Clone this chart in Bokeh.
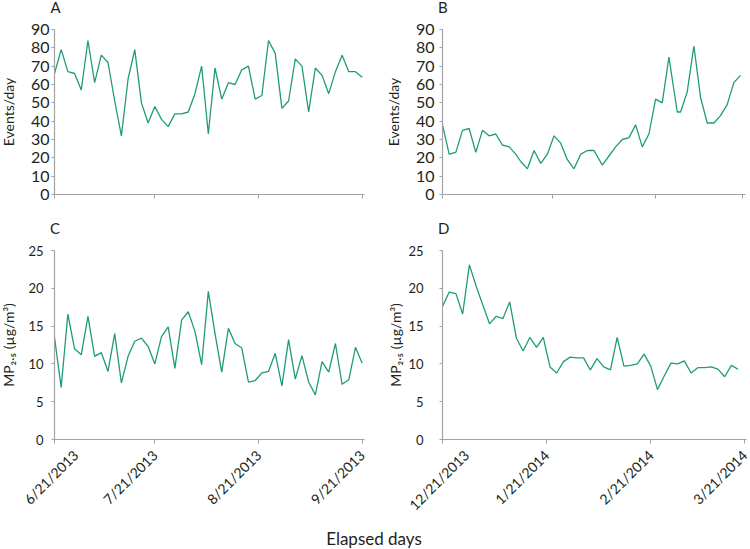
from math import pi
from bokeh.plotting import figure
from bokeh.models import Range1d, FixedTicker
from bokeh.layouts import column, row
from bokeh.embed import file_html
from bokeh.resources import INLINE
from bokeh.core.properties import value

FONT = "Lato"
LINE = "#1f9b7c"
AXIS = "#a3a3a3"
TEXT = "#231f20"

# ---- data ----
days_summer = [0, 2, 4, 6, 8, 10, 12, 14, 16, 18, 20, 22, 24, 26, 28, 30, 32, 34, 36, 38,
               40, 42, 44, 46, 48, 50, 52, 54, 56, 58, 60, 62, 64, 66, 68, 70, 72, 74, 76,
               78, 80, 82, 84, 86, 88, 90, 92]
events_summer = [66, 79, 67, 66, 57, 84, 61, 76, 72, 51, 32, 63, 79, 50, 39, 48, 41, 37, 44, 44,
                 45, 55, 70, 33, 69, 52, 61, 60, 68, 70, 52, 54, 84, 77, 47, 51, 74, 70, 45,
                 69, 65, 55, 67, 76, 67, 67, 64]
pm_summer = [13.5, 6.9, 16.6, 12.0, 11.2, 16.3, 11.0, 11.5, 9.0, 14.0, 7.5, 11.0, 13.0, 13.4,
             12.3, 10.0, 13.6, 14.9, 9.4, 15.8, 16.9, 14.3, 9.9, 19.6, 14.0, 8.9, 14.7, 12.7,
             12.1, 7.6, 7.8, 8.8, 9.0, 11.4, 7.1, 13.2, 8.0, 11.1, 7.6, 5.9, 10.3, 8.9, 12.7,
             7.3, 7.9, 12.2, 10.1]

days_winter_events = [0, 2, 4, 6, 8, 10, 12, 14, 16, 18, 20, 22, 23.5, 25.5, 27.5, 29.5, 31.5,
                      33.5, 35.5, 37.5, 39.5, 41.5, 43.5, 45.5, 48, 50, 52, 54, 56, 58, 60, 62,
                      64, 66, 68, 70.5, 71.5, 73.5, 75.5, 77.5, 79.5, 81.5, 83.5, 85.5, 87.5, 89.5]
events_winter = [38, 22, 23, 35, 36, 23, 35, 32, 33, 27, 26, 22, 18, 14, 24, 17, 22, 32, 28, 19,
                 14, 22, 24, 24, 16, 21, 26, 30, 31, 38, 26, 33, 52, 50, 75, 45, 45, 56, 81, 53,
                 39, 39, 43, 49, 61, 65]

days_winter_pm = [0, 2, 4, 6, 8, 10, 12, 14, 16, 18, 20, 22, 24, 26, 28, 30, 32, 34, 36, 38,
                  40, 42, 44, 46, 48, 50, 52, 54, 56, 58, 60, 62, 64, 66, 68, 70, 72, 74, 76,
                  78, 80, 82, 84, 86, 88]
pm_winter = [17.6, 19.5, 19.3, 16.6, 23.1, 20.3, 17.8, 15.3, 16.3, 16.0, 18.2, 13.4, 11.7, 13.5,
             12.2, 13.5, 9.6, 8.8, 10.3, 10.9, 10.8, 10.8, 9.2, 10.7, 9.6, 9.2, 13.5, 9.7, 9.8,
             10.0, 11.3, 9.7, 6.6, 8.4, 10.1, 10.0, 10.4, 8.8, 9.5, 9.5, 9.6, 9.3, 8.3, 9.8, 9.3]

ticks_summer = [0, 30, 61, 92]
labels_summer = ["6/21/2013", "7/21/2013", "8/21/2013", "9/21/2013"]
ticks_winter_events = [0, 33, 64, 90]
ticks_winter_pm = [0, 31, 62, 90]
labels_winter = ["12/21/2013", "1/21/2014", "2/21/2014", "3/21/2014"]

events_ticks = [0, 10, 20, 30, 40, 50, 60, 70, 80, 90]
pm_ticks = [0, 5, 10, 15, 20, 25]

EV_LABEL = "Events/day"
PM_LABEL = "MP\u2082.\u2085 (\u00b5g/m\u00b3)"
X_TITLE = "Elapsed days"
panel_letters_top = ["A", "B"]
panel_letters_bottom = ["C", "D"]


def blank(width, height, bt, bb, yr, xr):
    f = figure(width=width, height=height, output_backend="svg", toolbar_location=None,
               x_range=xr, y_range=yr, min_border_left=0, min_border_right=0,
               min_border_top=bt, min_border_bottom=bb, x_axis_type=None, y_axis_type=None,
               title=None)
    f.outline_line_color = None
    f.grid.visible = False
    return f


def ytitle(text, width, height, bt, bb, ymax, xpos):
    f = blank(width, height, bt, bb, Range1d(0, ymax), Range1d(0, width))
    f.text(x=[xpos], y=[ymax / 2], text=[text], angle=pi / 2, text_font=value(FONT),
           text_font_size="14px", text_color=TEXT, text_align="center",
           text_baseline="middle")
    return f


def letter_strip(letters, xpos, height, ymid):
    f = blank(750, height, 0, 0, Range1d(0, height), Range1d(0, 750))
    f.text(x=xpos, y=[ymid] * len(letters), text=letters, text_font=value(FONT),
           text_font_size="15px", text_color=TEXT, text_align="left",
           text_baseline="middle")
    return f


def panel(xs, ys, xmax, ymax, yticks, xticks, xlabels, show_xlabels,
          width, height, bl, br, bt, bb, ylab_size, ylab_standoff):
    p = figure(width=width, height=height, output_backend="svg", toolbar_location=None,
               x_range=Range1d(0, xmax), y_range=Range1d(0, ymax),
               min_border_left=bl, min_border_right=br, min_border_top=bt,
               min_border_bottom=bb)
    p.outline_line_color = None
    p.grid.visible = False
    p.background_fill_color = "white"
    p.border_fill_color = "white"
    p.line(xs, ys, line_color=LINE, line_width=1.3)

    for ax in (p.xaxis[0], p.yaxis[0]):
        ax.axis_line_color = AXIS
        ax.axis_line_width = 1.2
        ax.major_tick_line_color = AXIS
        ax.major_tick_line_width = 1
        ax.minor_tick_line_color = None
        ax.major_tick_in = 0
        ax.major_label_text_color = TEXT
        ax.major_label_text_font = FONT

    xa = p.xaxis[0]
    xa.ticker = FixedTicker(ticks=xticks)
    xa.major_tick_out = 4
    if show_xlabels:
        xa.major_label_overrides = {t: s for t, s in zip(xticks, xlabels)}
        xa.major_label_orientation = pi / 4
        xa.major_label_text_font_size = "14px"
        xa.major_label_standoff = 9
    else:
        xa.major_label_text_color = None
        xa.major_label_text_font_size = "8px"
        xa.major_label_standoff = 0

    ya = p.yaxis[0]
    ya.ticker = FixedTicker(ticks=yticks)
    ya.major_tick_out = 3
    ya.major_label_text_font_size = ylab_size
    ya.major_label_standoff = ylab_standoff
    return p


stripAB = letter_strip(panel_letters_top, [50, 437.5], 16, 10)
yA = ytitle(EV_LABEL, 20, 199, 13, 21, 90, 8.3)
pA = panel(days_summer, events_summer, 92.7, 90, events_ticks, ticks_summer,
           labels_summer, False, 355, 199, 34, 11, 13, 21, "16px", 2)
yB = ytitle(EV_LABEL, 30, 199, 13, 21, 90, 18)
pB = panel(days_winter_events, events_winter, 91, 90, events_ticks, ticks_winter_events,
           labels_winter, False, 345, 199, 37, 5, 13, 21, "16px", 5)

stripCD = letter_strip(panel_letters_bottom, [49.5, 437.5], 22, 10)
yC = ytitle(PM_LABEL, 20, 285, 13, 80, 25, 8.3)
pC = panel(days_summer, pm_summer, 92.7, 25, pm_ticks, ticks_summer,
           labels_summer, True, 355, 285, 34, 11, 13, 80, "13px", 8)
yD = ytitle(PM_LABEL, 30, 285, 13, 80, 25, 20)
pD = panel(days_winter_pm, pm_winter, 90.5, 25, pm_ticks, ticks_winter_pm,
           labels_winter, True, 345, 285, 36, 4, 13, 80, "13px", 16)

pE = blank(750, 27, 0, 0, Range1d(0, 1), Range1d(0, 1))
pE.text(x=[0.498], y=[0.407], text=[X_TITLE], text_font=value(FONT),
        text_font_size="17px", text_color=TEXT, text_align="center",
        text_baseline="middle")

layout = column(stripAB, row(yA, pA, yB, pB), stripCD, row(yC, pC, yD, pD), pE)

with open("out.html", "w") as f:
    f.write(file_html(layout, INLINE))
